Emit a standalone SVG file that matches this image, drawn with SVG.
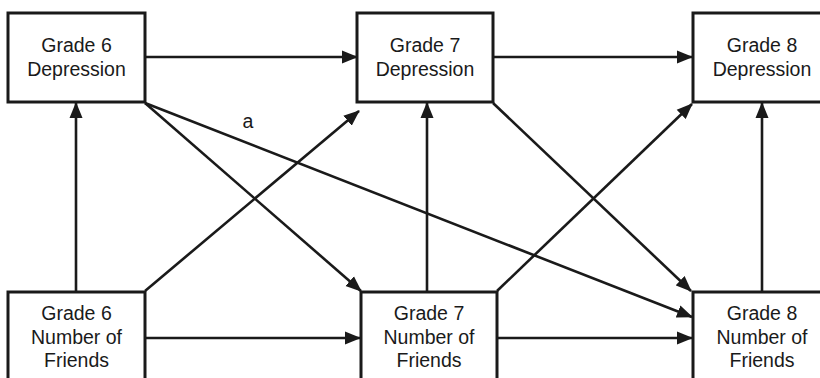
<svg xmlns="http://www.w3.org/2000/svg" width="820" height="378" viewBox="0 0 820 378">
<style>
.box{fill:#fff;stroke:#1a1a1a;stroke-width:3}
.t{font-family:"Liberation Sans",Arial,sans-serif;font-size:19.5px;fill:#1a1a1a;text-anchor:middle}
.c{stroke:#1a1a1a;stroke-width:2.6;fill:none;marker-end:url(#ah)}
</style>
<defs>
<marker id="ah" markerUnits="userSpaceOnUse" markerWidth="16" markerHeight="14" refX="15" refY="7" orient="auto">
<path d="M0,0.5 L16,7 L0,13.5 z" fill="#1a1a1a"/>
</marker>
</defs>
<rect width="820" height="378" fill="#fff"/>
<g id="connectors">
<line class="c" x1="145" y1="57" x2="357" y2="57"/>
<line class="c" x1="493" y1="57" x2="692" y2="57"/>
<line class="c" x1="145" y1="338" x2="360" y2="338"/>
<line class="c" x1="497" y1="338" x2="692" y2="338"/>
<line class="c" x1="76" y1="291" x2="76" y2="103"/>
<line class="c" x1="427" y1="291" x2="427" y2="103"/>
<line class="c" x1="762" y1="291" x2="762" y2="103"/>
<line class="c" x1="145" y1="291" x2="359" y2="111"/>
<line class="c" x1="497" y1="291" x2="692" y2="104"/>
<line class="c" x1="145" y1="103" x2="361" y2="291"/>
<line class="c" x1="493" y1="103" x2="691" y2="291"/>
<line class="c" x1="145" y1="103" x2="692" y2="317"/>
<text class="t" x="248" y="128">a</text>
</g>
<g id="g6dep"><rect class="box" x="8" y="13" width="137" height="89"/><text class="t" x="76.5" y="52">Grade 6</text><text class="t" x="76.5" y="76">Depression</text></g>
<g id="g7dep"><rect class="box" x="357" y="13" width="136" height="89"/><text class="t" x="425" y="52">Grade 7</text><text class="t" x="425" y="76">Depression</text></g>
<g id="g8dep"><rect class="box" x="693" y="13" width="138" height="89"/><text class="t" x="762" y="52">Grade 8</text><text class="t" x="762" y="76">Depression</text></g>
<g id="g6nf"><rect class="box" x="8" y="292" width="137" height="100"/><text class="t" x="76.5" y="320">Grade 6</text><text class="t" x="76.5" y="343.5">Number of</text><text class="t" x="76.5" y="367">Friends</text></g>
<g id="g7nf"><rect class="box" x="361" y="292" width="136" height="100"/><text class="t" x="429" y="320">Grade 7</text><text class="t" x="429" y="343.5">Number of</text><text class="t" x="429" y="367">Friends</text></g>
<g id="g8nf"><rect class="box" x="693" y="292" width="138" height="100"/><text class="t" x="762" y="320">Grade 8</text><text class="t" x="762" y="343.5">Number of</text><text class="t" x="762" y="367">Friends</text></g>
</svg>
